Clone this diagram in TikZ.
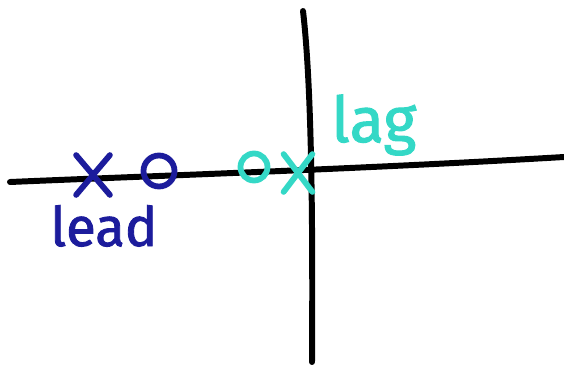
\documentclass[tikz,border=0pt]{standalone}
\usepackage{fontspec}
\setmainfont{Fira Sans}
\newfontfamily\markerfont{Fira Sans}[FakeBold=1.6]
\usetikzlibrary{shapes.misc}
\definecolor{sketchblue}{HTML}{1c1c9c}
\definecolor{sketchcyan}{HTML}{34d8c6}
\tikzset{
  axisline/.style={line width=3.4pt, line cap=round, black},
  crossmark/.style={draw, cross out, line width=3.3pt, line cap=round,
                    inner sep=0pt, minimum width=0.56cm, minimum height=0.68cm},
  ringmark/.style={draw, circle, line width=3.3pt, inner sep=0pt},
  tag/.style={anchor=base west, inner sep=0pt}
}
\begin{document}
\begin{tikzpicture}[x=0.02cm, y=-0.02cm]
  \useasboundingbox (0,0) rectangle (564,369);

  % axes, drawn by hand
  \coordinate (reL) at (10,182);
  \coordinate (reR) at (564,157);
  \coordinate (imT) at (303,11);
  \coordinate (imB) at (312,362);
  \draw[axisline] (reL) .. controls (150,176) and (360,169) .. (reR);
  \draw[axisline] (imT) .. controls (311,80) and (313,200) .. (imB);

  % lead: pole left of zero
  \node[crossmark, draw=sketchblue] (leadpole) at (93,175) {};
  \node[ringmark, draw=sketchblue, minimum size=0.62cm] (leadzero) at (159,171) {};
  \node[tag, text=sketchblue, font=\markerfont\fontsize{31}{31}\selectfont] (leadtext) at (50,246) {lead};

  % lag: zero left of pole
  \node[ringmark, draw=sketchcyan, minimum size=0.54cm] (lagzero) at (254,167) {};
  \node[crossmark, draw=sketchcyan, minimum width=0.46cm, minimum height=0.64cm] (lagpole) at (298,173) {};
  \node[tag, text=sketchcyan, font=\markerfont\fontsize{36}{36}\selectfont] (lagtext) at (331,142) {lag};
\end{tikzpicture}
\end{document}
